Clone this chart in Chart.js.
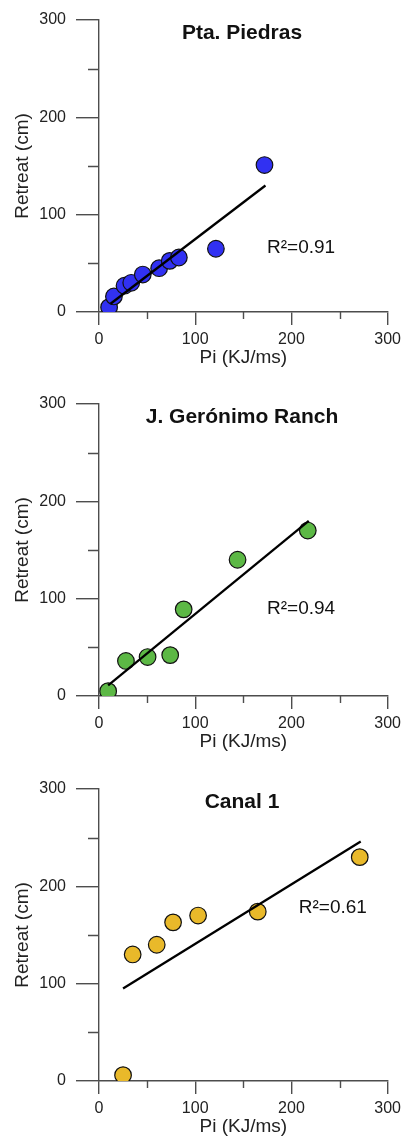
<!DOCTYPE html>
<html lang="en">
<head>
<meta charset="UTF-8">
<title>Retreat vs Pi</title>
<script src="https://cdn.jsdelivr.net/npm/chart.js"></script>
<style>
  body { margin: 0; background: #fff; width: 406px; height: 1138px; position: relative; overflow: hidden; }
  .panel { position: absolute; left: 0; width: 406px; height: 369px; }
</style>
</head>
<body>
<div class="panel" style="top:0"><canvas id="c1" width="406" height="369"></canvas></div>
<div class="panel" style="top:384px"><canvas id="c2" width="406" height="369"></canvas></div>
<div class="panel" style="top:769px"><canvas id="c3" width="406" height="369"></canvas></div>

<script>
// Pta. Piedras
const piedrasPi = [10.5, 15.5, 26.5, 33.5, 45.5, 62.5, 73.5, 83, 121.5, 172];
const piedrasRetreat = [5, 16, 27, 30, 38.5, 45, 52.5, 56, 65, 151];
const piedrasFitPi = [12, 173];
const piedrasFitRetreat = [8.5, 130];

// J. Gerónimo Ranch
const geronimoPi = [9.5, 28, 50.5, 74, 88, 144, 217];
const geronimoRetreat = [5, 36, 40, 42, 89, 140, 170];
const geronimoFitPi = [9.5, 218];
const geronimoFitRetreat = [11, 180];

// Canal 1
const canalPi = [25, 35, 60, 77, 103, 165, 271];
const canalRetreat = [6, 130, 140, 163, 170, 174, 230];
const canalFitPi = [25, 272];
const canalFitRetreat = [95, 246];

const axisTicks = [0, 100, 200, 300];

const AXIS = '#4d4d4d';
const FONT = '"Liberation Sans", Arial, sans-serif';

const zip = (xs, ys) => xs.map((x, i) => ({ x: x, y: ys[i] }));

// short minor ticks at the 50s
const minorTicks = {
    id: 'minorTicks',
    afterDraw(chart) {
        const { ctx, scales, chartArea } = chart;
        ctx.save();
        ctx.strokeStyle = AXIS;
        ctx.lineWidth = 1.4;
        ctx.beginPath();
        scales.y.ticks.forEach(t => {
            if (t.value % 100 === 0) return;
            const py = Math.round(scales.y.getPixelForValue(t.value)) + 0.5;
            ctx.moveTo(chartArea.left - 11, py);
            ctx.lineTo(chartArea.left, py);
        });
        scales.x.ticks.forEach(t => {
            if (t.value % 100 === 0) return;
            const px = Math.round(scales.x.getPixelForValue(t.value)) + 0.5;
            ctx.moveTo(px, chartArea.bottom);
            ctx.lineTo(px, chartArea.bottom + 7);
        });
        ctx.stroke();
        ctx.restore();
    }
};

// panel title and R² note
const panelText = {
    id: 'panelText',
    afterDraw(chart, args, opts) {
        const { ctx, scales, chartArea } = chart;
        ctx.save();
        ctx.fillStyle = '#111';
        ctx.textAlign = 'center';
        ctx.textBaseline = 'middle';
        ctx.font = 'bold 21px ' + FONT;
        ctx.fillText(opts.title, 242, chartArea.top + 13);
        ctx.font = '19px ' + FONT;
        ctx.fillText(opts.note, scales.x.getPixelForValue(opts.noteAt[0]), scales.y.getPixelForValue(opts.noteAt[1]));
        ctx.restore();
    }
};

function makeChart(id, pi, retreat, fitPi, fitRetreat, color, title, note, noteAt) {
    const majorOnly = c => (c.tick && c.tick.value % 100 === 0) ? AXIS : 'rgba(0,0,0,0)';
    return new Chart(document.getElementById(id), {
        type: 'scatter',
        data: {
            datasets: [
                {
                    data: zip(fitPi, fitRetreat),
                    showLine: true,
                    borderColor: '#000',
                    borderWidth: 2.3,
                    pointRadius: 0,
                    order: 0
                },
                {
                    data: zip(pi, retreat),
                    backgroundColor: color,
                    borderColor: '#111',
                    borderWidth: 1.2,
                    pointRadius: 8.3,
                    order: 1
                }
            ]
        },
        options: {
            responsive: false,
            animation: false,
            layout: { padding: { left: 0, right: 14, top: 20, bottom: 0 } },
            plugins: {
                legend: { display: false },
                tooltip: { enabled: false },
                panelText: { title: title, note: note, noteAt: noteAt }
            },
            scales: {
                x: {
                    type: 'linear',
                    min: 0, max: 300,
                    afterFit: s => { s.height = 57; },
                    border: { display: true, color: AXIS, width: 1.4 },
                    grid: { drawOnChartArea: false, drawTicks: true, tickLength: 13, tickColor: majorOnly, lineWidth: 1.4 },
                    ticks: {
                        stepSize: 50,
                        padding: 5,
                        color: '#222',
                        font: { family: FONT, size: 16 },
                        callback: v => axisTicks.includes(v) ? v : ''
                    },
                    title: { display: true, text: 'Pi (KJ/ms)', color: '#222', font: { family: FONT, size: 19 }, padding: { top: 0, bottom: 0 } }
                },
                y: {
                    type: 'linear',
                    min: 0, max: 300,
                    afterFit: s => { s.width = 99; },
                    border: { display: true, color: AXIS, width: 1.4 },
                    grid: { drawOnChartArea: false, drawTicks: true, tickLength: 23, tickColor: majorOnly, lineWidth: 1.4 },
                    ticks: {
                        stepSize: 50,
                        padding: 10,
                        color: '#222',
                        font: { family: FONT, size: 16 },
                        callback: v => axisTicks.includes(v) ? v : ''
                    },
                    title: { display: true, text: 'Retreat (cm)', color: '#222', font: { family: FONT, size: 19 }, padding: { top: 11, bottom: 0 } }
                }
            }
        },
        plugins: [minorTicks, panelText]
    });
}

makeChart('c1', piedrasPi, piedrasRetreat, piedrasFitPi, piedrasFitRetreat, '#3131f2', 'Pta. Piedras', 'R²=0.91', [210, 66]);
makeChart('c2', geronimoPi, geronimoRetreat, geronimoFitPi, geronimoFitRetreat, '#5cb845', 'J. Gerónimo Ranch', 'R²=0.94', [210, 90]);
makeChart('c3', canalPi, canalRetreat, canalFitPi, canalFitRetreat, '#e9b92a', 'Canal 1', 'R²=0.61', [243, 178]);
</script>
</body>
</html>
